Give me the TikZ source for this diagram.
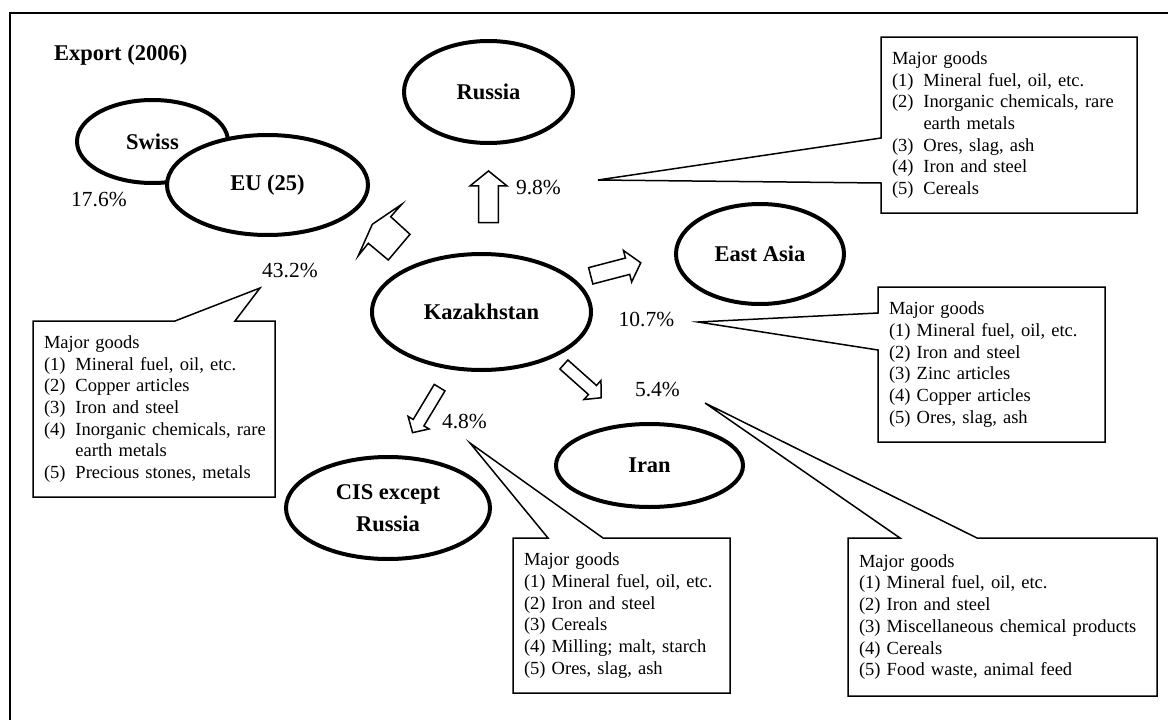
\documentclass[tikz,border=0pt]{standalone}
\usepackage{fontspec}
\setmainfont{Liberation Serif}
\usetikzlibrary{positioning,calc,shapes.geometric,shapes.arrows}
\newcommand{\goodsno}[1]{\makebox[31.5pt][l]{(#1)}}

\begin{document}
\begin{tikzpicture}[
	x=1pt, y=-1pt,
	every node/.style={font=\fontsize{18.5}{21.7}\selectfont},
	region/.style={draw, ellipse, line width=4pt, fill=white, inner sep=0pt, align=center, font=\fontsize{22.5}{32}\selectfont\bfseries},
	share/.style={inner sep=0pt, font=\fontsize{21.5}{26}\selectfont},
	goods/.style={anchor=north west, align=left, inner xsep=11pt, inner ysep=0pt, outer sep=0pt},
	callout/.style={line width=1.5pt},
	flow/.style={draw, single arrow, line width=1.5pt, anchor=tail, inner xsep=0pt, minimum width=0pt, single arrow head indent=0pt}
	]
	
	\useasboundingbox (0,0) rectangle (1168,720);
	\clip (0,0) rectangle (1168,720);
	\draw[line width=2pt] (10,13) rectangle (1200,760);
	
	\node[anchor=west, inner sep=0pt, font=\fontsize{22.5}{27}\selectfont\bfseries] (title) at (54,55) {Export (2006)};
	
	% partner regions
	\node[region, minimum width=151pt, minimum height=83pt] (swiss) at (152.5,141.5) {Swiss};
	\node[region, minimum width=201pt, minimum height=100pt] (eu) at (267.5,185) {EU (25)};
	\node[region, minimum width=169pt, minimum height=102pt] (russia) at (488.5,92) {Russia};
	\node[region, minimum width=219pt, minimum height=116pt] (kaz) at (481.5,312) {Kazakhstan};
	\node[region, minimum width=168pt, minimum height=100pt] (easia) at (760,254) {East Asia};
	\node[region, minimum width=187pt, minimum height=83pt] (iran) at (649.5,465.5) {Iran};
	\node[region, minimum width=204pt, minimum height=102pt] (cis) at (388,508) {CIS except\\ Russia};
	
	% shares
	\node[share] (pSwiss) at (99,200) {17.6\%};
	\node[share] (pEU) at (290,270) {43.2\%};
	\node[share] (pRU) at (538.5,188) {9.8\%};
	\node[share] (pEA) at (646.5,320) {10.7\%};
	\node[share] (pIR) at (657.5,389) {5.4\%};
	\node[share] (pCIS) at (464.5,421.7) {4.8\%};
	
	% flow arrows
	\node[flow, inner ysep=9.2pt, single arrow head extend=8.4pt, single arrow tip angle=102, minimum height=51.6pt, rotate=90] (toRU) at (488.5,223.3) {};
	\node[flow, inner ysep=7.7pt, single arrow head extend=7.8pt, single arrow tip angle=100, minimum height=51.7pt, rotate=14.6] (toEA) at (590,276) {};
	\node[flow, inner ysep=5.3pt, single arrow head extend=6.7pt, single arrow tip angle=95, minimum height=50pt, rotate=-41.7] (toIR) at (563.3,364) {};
	\node[flow, inner ysep=5.5pt, single arrow head extend=6pt, single arrow tip angle=93, minimum height=52.5pt, rotate=-121] (toCIS) at (440,387) {};
	\draw[line width=1.5pt] (372.3,224.3) -- (401.7,204.3) -- (390.7,216.7) -- (410,234.3) -- (388.3,260) -- (368.3,243.3) -- (358.3,255.7) -- cycle;
	
	% goods boxes
	\node[goods, text width=220pt, minimum height=176pt] (goodsEU) at (33,321) {Major goods\\
		\goodsno{1}Mineral fuel, oil, etc.\\
		\goodsno{2}Copper articles\\
		\goodsno{3}Iron and steel\\
		\goodsno{4}\mbox{Inorganic chemicals, rare}\\
		\hspace*{31.5pt}earth metals\\
		\goodsno{5}Precious stones, metals};
	\node[goods, text width=234pt, minimum height=176pt] (goodsRU) at (881,37) {Major goods\\
		\goodsno{1}Mineral fuel, oil, etc.\\
		\goodsno{2}\mbox{Inorganic chemicals, rare}\\
		\hspace*{31.5pt}earth metals\\
		\goodsno{3}Ores, slag, ash\\
		\goodsno{4}Iron and steel\\
		\goodsno{5}Cereals};
	\node[goods, text width=205pt, minimum height=155pt] (goodsEA) at (878,287) {Major goods\\
		(1) Mineral fuel, oil, etc.\\
		(2) Iron and steel\\
		(3) Zinc articles\\
		(4) Copper articles\\
		(5) Ores, slag, ash};
	\node[goods, text width=195pt, minimum height=155pt] (goodsCIS) at (513,538) {Major goods\\
		(1) Mineral fuel, oil, etc.\\
		(2) Iron and steel\\
		(3) Cereals\\
		(4) Milling; malt, starch\\
		(5) Ores, slag, ash};
	\node[goods, text width=287pt, minimum height=158pt] (goodsIR) at (848,538) {Major goods\\
		(1) Mineral fuel, oil, etc.\\
		(2) Iron and steel\\
		(3) Miscellaneous chemical products\\
		(4) Cereals\\
		(5) Food waste, animal feed};
	
	% callout outlines
	\coordinate (tipEU) at (260,288);
	\coordinate (tipRU) at (598,180);
	\coordinate (tipEA) at (698,322);
	\coordinate (tipCIS) at (470,443);
	\coordinate (tipIR) at (705,403);
	
	\draw[callout] (goodsEU.north west) -- ++(142,0) -- (tipEU) -- ($(goodsEU.north west)+(202,0)$) -- (goodsEU.north east) -- (goodsEU.south east) -- (goodsEU.south west) -- cycle;
	\draw[callout] (goodsRU.north west) -- (goodsRU.north east) -- (goodsRU.south east) -- (goodsRU.south west) -- ($(goodsRU.north west)+(0,146)$) -- (tipRU) -- ($(goodsRU.north west)+(0,101)$) -- cycle;
	\draw[callout] (goodsEA.north west) -- (goodsEA.north east) -- (goodsEA.south east) -- (goodsEA.south west) -- ($(goodsEA.north west)+(0,63)$) -- (tipEA) -- ($(goodsEA.north west)+(0,26)$) -- cycle;
	\draw[callout] (goodsCIS.north west) -- ++(35,0) -- (tipCIS) -- ($(goodsCIS.north west)+(90,0)$) -- (goodsCIS.north east) -- (goodsCIS.south east) -- (goodsCIS.south west) -- cycle;
	\draw[callout] (goodsIR.north west) -- ++(52,0) -- (tipIR) -- ($(goodsIR.north west)+(129,0)$) -- (goodsIR.north east) -- (goodsIR.south east) -- (goodsIR.south west) -- cycle;
	
\end{tikzpicture}
\end{document}
